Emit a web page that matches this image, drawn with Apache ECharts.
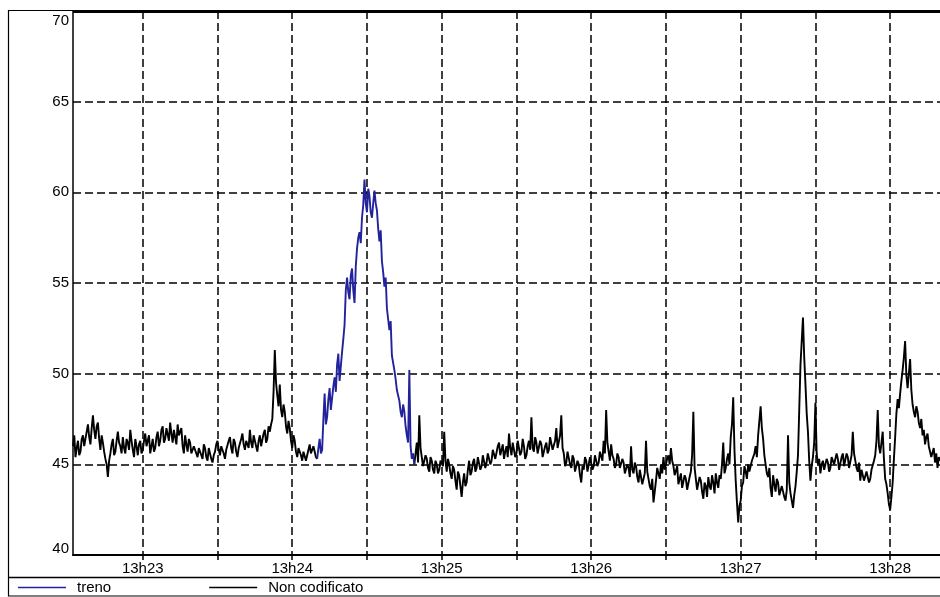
<!DOCTYPE html>
<html><head><meta charset="utf-8">
<script src="https://cdn.jsdelivr.net/npm/echarts@6/dist/echarts.min.js"></script>
<style>html,body{margin:0;padding:0;background:#fff}#c{width:940px;height:597px}</style>
</head><body><div id="c"></div>
<script>
// x values are seconds after 13:22:00; samples every half second
const seriesNames = ['treno', 'Non codificato'];
const xMin = 32, xMax = 380;
const sampleStep = 0.5;
const xGridSeconds = [60, 90, 120, 150, 180, 210, 240, 270, 300, 330, 360];
const xLabelSeconds = [60, 120, 180, 240, 300, 360];
const xLabels = ['13h23', '13h24', '13h25', '13h26', '13h27', '13h28'];
const yMin = 40, yMax = 70, yStep = 5;

// Non codificato, first part, from t=32
const blackAStart = 32;
const blackA = [
  46.0,46.6,45.4,45.9,46.3,45.5,45.7,46.4,46.6,46.0,45.9,46.8,47.2,46.5,46.1,47.0,47.7,46.9,46.4,47.1,
  47.3,46.4,45.8,46.6,46.2,45.7,45.3,45.0,44.3,45.2,45.6,46.1,46.4,45.5,45.7,46.3,46.8,46.2,46.0,45.6,
  46.5,45.9,45.6,46.4,46.2,45.8,46.9,46.3,45.8,45.4,46.4,46.0,45.5,46.1,46.3,45.6,45.8,46.3,46.7,46.0,
  46.1,46.6,45.6,46.0,46.4,45.7,45.9,46.5,46.8,46.0,46.3,46.9,47.1,46.2,46.4,47.0,46.9,46.3,47.3,46.7,
  46.2,46.9,46.8,46.1,47.2,46.6,46.5,47.0,46.0,45.6,46.6,46.1,45.7,46.4,46.2,45.6,45.5,46.0,46.1,45.6,
  45.4,45.9,46.0,45.5,45.3,46.1,45.9,45.4,45.2,45.9,45.8,45.3,45.1,45.5,45.7,46.1,46.3,45.8,45.5,46.0,
  46.1,45.6,45.3,45.8,45.9,46.3,46.5,45.9,45.6,46.4,46.2,45.7,45.4,45.9,46.0,46.4,46.7,46.1,45.8,46.3,
  46.4,45.9,46.9,46.2,45.9,46.6,46.5,46.0,45.7,46.3,46.6,46.0,46.1,46.7,46.9,46.2,46.4,47.1,46.8,47.2,
  47.5,49.0,51.3,49.5,48.8,48.2,49.4,48.0,47.6,48.3,47.9,47.1,46.7,47.4,47.0,46.3,45.9,46.6,46.3,45.7,
  45.4,45.9,46.0,45.5,45.2,45.7,45.8,45.2,45.3,45.8,46.1,45.6,45.5,46.0,45.9,45.4,45.3
];

// treno, from t=130
const trenoStart = 130;
const treno = [
  45.3,45.9,46.4,45.6,45.8,47.5,48.9,47.2,47.6,48.6,49.2,48.0,48.1,49.3,49.8,49.0,50.5,51.1,49.6,50.4,
  51.2,51.9,52.7,54.6,55.3,54.5,54.1,55.4,55.8,54.6,53.9,55.9,56.9,57.5,57.8,57.2,58.6,59.3,60.7,59.4,
  58.9,60.2,59.8,58.9,58.6,59.4,60.1,59.4,59.0,58.0,57.3,57.9,56.2,55.6,54.8,55.3,53.6,53.0,52.4,52.9,
  51.0,50.6,50.2,49.7,49.1,48.8,48.5,47.9,47.6,48.3,47.9,47.1,46.6,46.2,50.2,46.0,45.3,45.6,45.0
];

// Non codificato, second part, from t=169
const blackBStart = 169;
const blackB = [
  45.0,45.6,46.2,45.1,47.7,45.9,45.4,44.9,44.8,45.5,45.3,44.8,44.6,45.4,45.2,44.7,44.5,45.2,45.0,44.5,
  44.7,45.2,45.3,44.9,46.8,45.2,44.6,45.3,45.0,44.5,44.2,44.9,44.7,44.1,43.6,44.6,44.4,43.8,43.2,44.0,
  44.5,43.8,44.0,44.7,45.2,44.4,44.6,45.1,45.3,44.6,44.8,45.4,45.5,44.7,44.9,45.5,45.6,44.8,45.1,45.6,
  45.7,45.0,45.2,45.8,45.9,45.3,45.4,46.0,46.2,45.5,45.6,46.1,45.3,45.7,46.0,45.4,46.7,45.9,45.5,46.2,
  46.1,45.4,45.6,46.3,46.2,45.5,45.7,46.4,46.0,45.3,45.5,46.0,46.3,45.8,47.6,45.9,45.7,46.5,46.2,45.6,
  45.6,46.3,46.1,45.4,45.5,46.0,46.2,45.6,45.8,46.5,46.4,45.8,45.7,46.3,47.0,45.9,46.0,46.6,47.7,45.9,
  45.6,44.9,45.1,45.7,45.6,45.0,44.8,45.5,45.3,44.6,44.5,45.2,45.0,44.4,44.0,44.9,44.7,45.4,45.2,44.6,
  44.6,45.4,45.3,44.7,44.9,45.5,45.6,44.9,45.1,45.7,45.8,45.2,46.3,45.6,48.0,46.2,45.7,45.2,46.1,45.5,
  45.3,44.8,45.0,45.6,45.4,44.8,44.7,45.3,45.1,44.5,44.4,45.0,44.8,44.3,46.0,44.7,44.5,45.1,44.9,44.3,
  44.0,44.7,44.6,43.9,43.8,44.5,46.3,44.6,44.2,43.8,43.6,44.2,42.9,43.5,44.1,44.8,44.7,44.2,45.0,44.5,
  45.4,44.7,44.8,45.3,45.5,45.0,45.9,45.2,44.9,44.4,44.3,44.9,43.9,44.2,44.5,43.7,43.8,44.4,44.2,43.6,
  43.7,44.3,44.6,45.5,47.9,44.8,44.2,43.6,43.5,44.3,44.1,43.5,43.1,44.0,43.8,43.2,44.3,43.8,43.6,44.4,
  44.0,43.4,44.5,44.0,43.7,44.4,44.2,45.0,46.2,44.5,44.8,45.3,45.6,45.0,46.5,47.2,48.7,45.8,44.1,42.9,
  41.8,42.7,43.0,43.8,44.0,44.9,44.6,44.2,45.0,44.6,44.5,45.2,45.3,45.6,46.0,45.4,46.6,47.4,48.2,47.0,
  46.4,45.5,45.0,44.5,44.3,44.8,43.7,43.2,44.4,43.9,43.5,44.2,44.0,43.3,43.2,43.8,43.9,43.2,43.0,43.6,
  46.6,44.0,43.4,43.0,42.6,43.3,43.8,44.6,45.5,48.0,50.5,51.8,53.1,50.9,49.4,47.8,46.8,45.2,44.1,44.9,
  45.4,46.2,48.4,45.6,45.0,45.3,44.5,45.0,45.2,44.7,44.6,45.3,45.1,44.6,44.8,45.4,45.5,45.0,44.9,45.6,
  45.3,44.7,44.8,45.4,45.6,44.9,45.0,45.6,45.4,44.8,44.9,45.5,46.8,45.6,45.2,44.8,44.6,45.1,44.1,44.7,
  44.6,44.1,44.0,44.6,44.5,44.0,44.2,44.7,44.8,45.2,45.5,46.3,48.0,46.0,45.6,46.2,46.8,45.3,44.2,43.9,
  43.4,42.8,42.5,43.2,44.0,45.3,46.5,47.8,48.6,48.1,48.9,49.6,50.2,50.9,51.8,49.9,49.2,50.0,50.8,49.1,
  48.3,47.9,47.6,48.2,47.9,47.3,47.0,47.5,46.6,46.9,46.1,46.5,46.7,46.0,45.9,45.4,45.5,45.9,45.1,45.6,
  44.8,45.4,45.2
];

function toPairs(start, arr) { return arr.map((v, i) => [start + i * sampleStep, v]); }

const FONT = 'Liberation Sans';
const BLUE = '#22229c';
const chart = echarts.init(document.getElementById('c'), null, { renderer: 'canvas' });
chart.setOption({
  animation: false,
  backgroundColor: '#fff',
  grid: { left: 73, right: 0, top: 11, bottom: 42, outerBoundsMode: 'none' },
  legend: {
    data: seriesNames,
    left: 18, top: 580, padding: 0,
    icon: 'rect',
    itemWidth: 48, itemHeight: 1.6, itemGap: 98,
    textStyle: { fontFamily: FONT, fontSize: 15, color: '#000', padding: [0, 0, 0, 6] }
  },
  xAxis: {
    type: 'value', min: xMin, max: xMax,
    axisLine: { show: true, lineStyle: { color: '#000', width: 2 } },
    axisTick: { show: true, customValues: xGridSeconds, length: 5, lineStyle: { color: '#000', width: 1.5 } },
    axisLabel: {
      customValues: xLabelSeconds,
      formatter: v => xLabels[xLabelSeconds.indexOf(v)] || '',
      fontFamily: FONT, fontSize: 15, color: '#000', margin: 6
    },
    splitLine: { show: true, lineStyle: { color: '#000', width: 1.5, type: [8, 4] } }
  },
  yAxis: {
    type: 'value', min: yMin, max: yMax, interval: yStep,
    axisLine: { show: true, lineStyle: { color: '#000', width: 1.5 } },
    axisTick: { show: false },
    axisLabel: {
      fontFamily: FONT, fontSize: 15, color: '#000', margin: 4, lineHeight: 14,
      formatter: v => v === yMax ? '{top| }\n' + v : (v === yMin ? v + '\n{bot| }' : String(v)),
      rich: { top: { lineHeight: 20, fontSize: 2 }, bot: { lineHeight: 12, fontSize: 2 } }
    },
    splitLine: { show: true, lineStyle: { color: '#000', width: 1.5, type: [8, 4] } }
  },
  series: [
    { name: seriesNames[1], type: 'line', data: toPairs(blackAStart, blackA), symbol: 'none', showSymbol: false,
      lineStyle: { color: '#000', width: 1.9 }, itemStyle: { color: '#000' }, z: 2 },
    { name: seriesNames[1], type: 'line', data: toPairs(blackBStart, blackB), symbol: 'none', showSymbol: false,
      lineStyle: { color: '#000', width: 1.9 }, itemStyle: { color: '#000' }, z: 2 },
    { name: seriesNames[0], type: 'line', data: toPairs(trenoStart, treno), symbol: 'none', showSymbol: false,
      lineStyle: { color: BLUE, width: 1.9 }, itemStyle: { color: BLUE }, z: 3 }
  ],
  graphic: [
    { type: 'rect', shape: { x: 8.5, y: 10.5, width: 940, height: 585.5 }, style: { fill: null, stroke: '#000', lineWidth: 1.2 }, silent: true },
    { type: 'line', shape: { x1: 8, y1: 577.5, x2: 940, y2: 577.5 }, style: { stroke: '#000', lineWidth: 1.5 }, silent: true },
    { type: 'line', shape: { x1: 73, y1: 11.5, x2: 940, y2: 11.5 }, style: { stroke: '#000', lineWidth: 3 }, silent: true, z: 100 }
  ]
});
</script>
</body></html>
